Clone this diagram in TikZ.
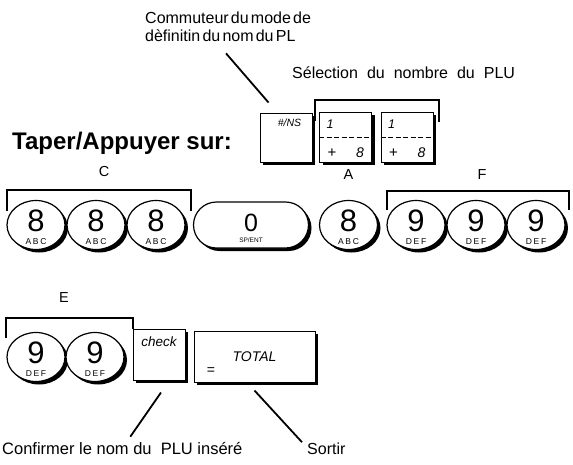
\documentclass[tikz,border=0pt]{standalone}
\usepackage{fontspec}
\setmainfont{Liberation Sans}
\newfontfamily\keyfont[LetterSpace=20]{Liberation Sans}
\newcommand\tightwords{\spaceskip 2.2pt\relax}
\newcommand\widewords{\spaceskip 9pt\relax}
\usetikzlibrary{shapes.geometric,shapes.misc,shadows}

\tikzset{
  keyshadow/.style={drop shadow={shadow xshift=3pt,shadow yshift=-3pt,fill=black,opacity=1}},
  roundkey/.style={ellipse,draw,fill=white,line width=1.2pt,minimum width=58,minimum height=49,inner sep=0pt,keyshadow},
  squarekey/.style={rectangle,draw,fill=white,line width=1pt,inner sep=0pt,keyshadow},
  digit/.style={inner sep=0pt,font=\fontsize{31}{31}\selectfont},
  letters/.style={inner sep=0pt,font=\keyfont\fontsize{8.5}{8.5}\selectfont},
  keytext/.style={inner sep=0pt,font=\itshape\fontsize{#1}{#1}\selectfont},
  bracket/.style={line width=2pt},
  leader/.style={line width=1.8pt},
  grouplabel/.style={inner sep=0pt,font=\fontsize{14.5}{14.5}\selectfont},
}

\begin{document}
\begin{tikzpicture}[x=1pt,y=-1pt]
 \useasboundingbox (0,0) rectangle (573,464);

 % notes on top
 \node[anchor=north west,inner sep=0pt,align=left,font={\fontsize{16}{18.7}\selectfont\tightwords}] (mode) at (145,11.5)
   {Commuteur du mode de\\\tightwords dèfinitin du nom du PL};
 \node[anchor=base west,inner sep=0pt,font={\fontsize{16}{16}\selectfont}] (selection) at (292,78)
   {\widewords Sélection du nombre du PLU};
 \node[anchor=base west,inner sep=0pt,font=\bfseries\fontsize{24}{24}\selectfont] (title) at (12,149)
   {Taper/Appuyer sur:};

 % keys of the first line
 \node[squarekey,minimum width=52,minimum height=49] (ns) at (286,137.5) {};
 \node[keytext=10.5] (ns-t) at ([shift={(3.5pt,14.5pt)}]ns.center) {\#/NS};
 \foreach \k/\x in {p1/345.5,p2/407}{%
   \node[squarekey,minimum width=52,minimum height=50] (\k) at (\x,137) {};
   \draw[line width=0.6pt,dash pattern=on 5pt off 2.5pt] (\k.west) -- (\k.east);
   \node[keytext=12.5] (\k-one) at ([shift={(-15.5pt,13pt)}]\k.center) {1};
   \node[inner sep=0pt,font=\fontsize{15}{15}\selectfont] (\k-plus) at ([shift={(-13.5pt,-16pt)}]\k.center) {+};
   \node[keytext=14] (\k-eight) at ([shift={(14.5pt,-16pt)}]\k.center) {8};
 }
 \draw[bracket] ([shift={(-4pt,-9pt)}]p1.north west) |- ([shift={(5pt,12pt)}]p2.north east)
   -- ([shift={(5pt,-10pt)}]p2.north east);
 \draw[leader] (mode.south west) ++(81,11) coordinate (modetip) -- ([shift={(9pt,10pt)}]ns.north west);

 % second line
 \foreach \n/\x/\d/\l in {c1/36/8/ABC,c2/96/8/ABC,c3/156/8/ABC,a1/348.5/8/ABC,f1/416/9/DEF,f2/476/9/DEF,f3/536/9/DEF}{%
   \node[roundkey] (\n) at (\x,225) {};
   \node[digit] (\n-d) at ([yshift=4pt]\n.center) {\d};
   \node[letters] (\n-l) at ([yshift=-17pt]\n.center) {\l};
 }
 \node[rounded rectangle,draw,fill=white,line width=1.2pt,minimum width=115,minimum height=46,inner sep=0pt,keyshadow] (sp) at (251,225) {};
 \node[inner sep=0pt,font=\fontsize{25}{25}\selectfont] (sp-d) at ([yshift=2pt]sp.center) {0};
 \node[inner sep=0pt,font=\fontsize{6.5}{6.5}\selectfont] (sp-l) at ([yshift=-15pt]sp.center) {SP/ENT};

 \draw[bracket] ([shift={(0.5pt,14pt)}]c1.west) |- ([shift={(5.5pt,35pt)}]c3.east) -- ([shift={(5.5pt,14pt)}]c3.east);
 \draw[bracket] ([shift={(1pt,15pt)}]f1.west) |- ([shift={(3pt,34pt)}]f3.east) -- ([shift={(3pt,15pt)}]f3.east);
 \node[grouplabel] (lab-c) at (104,172) {C};
 \node[grouplabel] (lab-a) at (348.5,175) {A};
 \node[grouplabel] (lab-f) at (482,175) {F};

 % third line
 \foreach \n/\x in {e1/36,e2/95}{%
   \node[roundkey] (\n) at (\x,357) {};
   \node[digit] (\n-d) at ([yshift=4pt]\n.center) {9};
   \node[letters] (\n-l) at ([yshift=-17pt]\n.center) {DEF};
 }
 \node[squarekey,minimum width=52,minimum height=51] (chk) at (159,354.5) {};
 \node[keytext=13.5] (chk-t) at ([yshift=12.5pt]chk.center) {check};
 \node[squarekey,minimum width=121,minimum height=51] (tot) at (254.5,356.5) {};
 \node[keytext=14] (tot-t) at (tot.center) {TOTAL};
 \node[inner sep=0pt,font=\fontsize{14}{14}\selectfont] (tot-eq) at ([shift={(-43.5pt,-14.5pt)}]tot.center) {=};

 \draw[bracket] ([shift={(0pt,19pt)}]e1.west) |- ([shift={(0pt,11pt)}]chk.north west) -- (chk.north west);
 \node[grouplabel] (lab-e) at (64,298) {E};

 % notes below
 \node[anchor=base west,inner sep=0pt,font=\fontsize{16.5}{16.5}\selectfont] (confirm) at (2,454)
   {Confirmer le nom du\ \ PLU inséré};
 \node[anchor=base west,inner sep=0pt,font=\fontsize{16}{16}\selectfont] (sortir) at (307,454) {Sortir};
 \draw[leader] ([shift={(2pt,-12pt)}]chk.south) -- ([shift={(8pt,5pt)}]confirm.north);
 \draw[leader] ([shift={(0pt,-8pt)}]tot.south) -- ([shift={(-5pt,0pt)}]sortir.north west);
\end{tikzpicture}
\end{document}
